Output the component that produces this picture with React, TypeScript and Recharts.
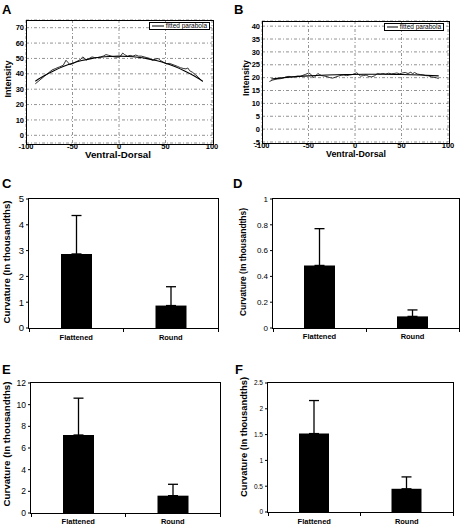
import React from "react"
import { LineChart, Line, BarChart, Bar, XAxis, YAxis, CartesianGrid, ErrorBar, Legend } from "recharts"

const FONT = "'Liberation Sans', Arial, sans-serif"

// panel A: intensity profile, ventral-dorsal
const posA = [-90, -87, -84, -80, -76, -72, -68, -64, -60, -57, -55, -53, -50, -47, -44, -41, -39, -37, -35, -32, -29, -26, -23, -20, -17, -14, -11, -8, -5, -2, 1, 4, 6, 9, 12, 15, 18, 21, 24, 27, 30, 33, 36, 39, 42, 45, 48, 51, 54, 57, 60, 63, 66, 69, 72, 74, 76, 79, 82, 85, 88, 90]
const intensityA = [33.5, 35, 36.5, 38.5, 40.5, 42.5, 43.5, 44.5, 45.5, 48.8, 47.5, 46, 46.5, 47.5, 48.5, 49.5, 51, 50, 49, 50, 51, 50.5, 50.6, 51, 51.5, 52.5, 52, 51.5, 51, 50.8, 51, 53.5, 52.5, 51.5, 52, 51.5, 52.2, 51.5, 51.5, 51, 50.5, 50, 48.8, 49.5, 50, 48.5, 47.5, 46.5, 46.8, 46.2, 45.5, 44.8, 44, 43.5, 43.2, 43.8, 42, 41, 39.5, 38, 36, 35]
const fitPosA = [-90, -80, -70, -60, -50, -40, -30, -20, -10, 0, 10, 20, 30, 40, 50, 60, 70, 80, 90]
const fitA = [35.2, 38.9, 42, 44.7, 46.9, 48.6, 49.9, 50.8, 51.3, 51.5, 51.3, 50.8, 49.9, 48.6, 46.9, 44.7, 42, 38.9, 35.2]

// panel B
const posB = [-92, -89, -86, -83, -80, -77, -74, -71, -68, -65, -62, -59, -56, -53, -50, -48, -46, -44, -42, -40, -38, -36, -33, -30, -27, -24, -21, -18, -15, -12, -9, -6, -3, 0, 2, 4, 6, 9, 12, 15, 18, 21, 24, 27, 30, 33, 36, 39, 42, 45, 48, 51, 54, 57, 60, 62, 64, 67, 70, 73, 76, 79, 82, 85, 88, 90]
const intensityB = [18.5, 19, 19.3, 19.5, 19.6, 19.9, 20.3, 20.5, 20.3, 20.4, 20.6, 20.5, 20.9, 21.3, 21.8, 21.5, 20.5, 20, 20.8, 21.6, 21.2, 20.8, 20.6, 20.4, 20, 19.8, 20.2, 20.6, 20.9, 21, 20.8, 21, 21.2, 21.6, 21.9, 21.2, 20.6, 20.8, 21, 20.4, 20.3, 20.7, 21.6, 21.4, 21.6, 21.4, 21.7, 21.5, 21.6, 21.8, 21.5, 21.8, 22, 21.6, 22.1, 21.5, 22, 21.4, 21.2, 21.1, 20.8, 20.7, 20.3, 20.1, 19.9, 19.6]
const fitPosB = [-90, -70, -50, -30, -10, 10, 30, 50, 70, 90]
const fitB = [19.5, 20.2, 20.7, 21, 21.2, 21.3, 21.3, 21.2, 21, 20.7]

const xTicks = [-100, -50, 0, 50, 100]
const ticksA = [0, 10, 20, 30, 40, 50, 60, 70]
const ticksB = [-5, 0, 5, 10, 15, 20, 25, 30, 35, 40]

// panels C-F: curvature bars
const categories = ["Flattened", "Round"]
const curvC = [2.87, 0.87]
const upperC = [4.36, 1.6]
const curvD = [0.485, 0.09]
const upperD = [0.77, 0.14]
const curvE = [7.2, 1.6]
const upperE = [10.6, 2.65]
const curvF = [1.52, 0.45]
const upperF = [2.16, 0.68]

const ticksC = [0, 1, 2, 3, 4, 5]
const ticksD = [0, 0.2, 0.4, 0.6, 0.8, 1]
const ticksE = [0, 2, 4, 6, 8, 10, 12]
const ticksF = [0, 0.5, 1, 1.5, 2, 2.5]

const toPoints = (xs: number[], ys: number[]) => xs.map((x, i) => ({ x, y: ys[i] }))

type Margin = { top: number; right: number; bottom: number; left: number }

// box drawn round the plot area, sized from the same margins the chart uses
const PlotFrame = ({ width, height, margin, yAxisWidth, xAxisHeight, line, edgeTicks }: any) => {
  const w = width - margin.left - margin.right - yAxisWidth
  const h = height - margin.top - margin.bottom - xAxisHeight
  const x0 = margin.left + yAxisWidth
  const y0 = margin.top
  return (
    <>
      <div
        style={{
          position: "absolute",
          left: x0 - line / 2,
          top: y0 - line / 2,
          width: w,
          height: h,
          border: `${line}px solid #000`,
          pointerEvents: "none",
        }}
      />
      {edgeTicks &&
        [0, 0.5, 1].map((f) => (
          <div key={f} style={{ position: "absolute", left: x0 + f * w - 0.5, top: y0 + h, width: 1, height: 4, background: "#000" }} />
        ))}
    </>
  )
}

const FitLegend = ({ payload }: any) => (
  <div
    style={{
      border: "1px solid #000",
      background: "#fff",
      display: "flex",
      alignItems: "center",
      height: 8,
      boxSizing: "border-box",
      padding: "0 2px",
      fontFamily: FONT,
      fontSize: 6.5,
      lineHeight: "6px",
      color: "#000",
    }}
  >
    {(payload || [])
      .filter((entry: any) => entry.type !== "none" && entry.value !== "y")
      .map((entry: any) => (
        <React.Fragment key={entry.value}>
          <svg width={12} height={4}>
            <line x1={0} x2={12} y1={2} y2={2} stroke="#000" strokeWidth={1} />
          </svg>
          <span style={{ marginLeft: 2, whiteSpace: "nowrap" }}>{entry.value}</span>
        </React.Fragment>
      ))}
  </div>
)

interface ProfileProps {
  left: number
  margin: Margin
  yAxisWidth: number
  xAxisHeight: number
  raw: { x: number; y: number }[]
  fit: { x: number; y: number }[]
  yDomain: [number, number]
  yTicks: number[]
  legend: { left: number; top: number; width: number }
}

const ProfilePanel = ({ left, margin, yAxisWidth, xAxisHeight, raw, fit, yDomain, yTicks, legend }: ProfileProps) => {
  const tick = { fontSize: 7.5, fontWeight: "bold", fill: "#000", fontFamily: FONT }
  return (
    <div style={{ position: "absolute", left, top: 0, width: 230, height: 160 }}>
      <LineChart width={230} height={160} margin={margin} data={raw}>
        <CartesianGrid stroke="#777" strokeDasharray="3 2 1 2" strokeWidth={0.8} />
        <XAxis type="number" dataKey="x" domain={[-100, 100]} allowDataOverflow ticks={xTicks} interval={0} height={xAxisHeight} tickLine={false} tickSize={1} tickMargin={0} axisLine={false} tick={tick} />
        <YAxis type="number" domain={yDomain} allowDataOverflow ticks={yTicks} interval={0} width={yAxisWidth} tickLine={false} tickSize={1} tickMargin={1} axisLine={false} tick={tick} />
        <Legend
          layout="vertical"
          align="center"
          verticalAlign="middle"
          content={FitLegend}
          wrapperStyle={{ left: legend.left, top: legend.top, width: legend.width, height: 8 }}
        />
        <Line dataKey="y" type="linear" stroke="#1a1a1a" strokeWidth={0.9} dot={false} legendType="none" isAnimationActive={false} />
        <Line data={fit} dataKey="y" name="fitted parabola" type="monotone" stroke="#000" strokeWidth={1.1} dot={false} isAnimationActive={false} />
      </LineChart>
      <PlotFrame width={230} height={160} margin={margin} yAxisWidth={yAxisWidth} xAxisHeight={xAxisHeight} line={1} />
    </div>
  )
}

interface CurvatureProps {
  left: number
  top: number
  height: number
  margin: Margin
  yAxisWidth: number
  xAxisHeight: number
  values: number[]
  uppers: number[]
  yDomain: [number, number]
  yTicks: number[]
  tickFontSize: number
  catMargin: number
  barSize: number
}

const CurvaturePanel = ({ left, top, height, margin, yAxisWidth, xAxisHeight, values, uppers, yDomain, yTicks, tickFontSize, catMargin, barSize }: CurvatureProps) => {
  const data = categories.map((name, i) => ({ name, value: values[i], err: [0, uppers[i] - values[i]] }))
  return (
    <div style={{ position: "absolute", left, top, width: 230, height }}>
      <BarChart width={230} height={height} data={data} margin={margin} barSize={barSize}>
        <XAxis
          dataKey="name"
          interval={0}
          height={xAxisHeight}
          tickLine={false}
          tickSize={1}
          tickMargin={catMargin - 1}
          axisLine={false}
          tick={{ fontSize: 7.5, fontWeight: "bold", fill: "#000", fontFamily: FONT }}
        />
        <YAxis
          domain={yDomain}
          allowDataOverflow
          ticks={yTicks}
          interval={0}
          width={yAxisWidth}
          tickSize={3}
          tickMargin={2}
          tickLine={{ stroke: "#000" }}
          axisLine={false}
          tick={{ fontSize: tickFontSize, fill: "#000", fontFamily: FONT }}
        />
        <Bar dataKey="value" fill="#000" isAnimationActive={false}>
          <ErrorBar dataKey="err" direction="y" width={5} stroke="#000" strokeWidth={1.3} />
        </Bar>
      </BarChart>
      <PlotFrame width={230} height={height} margin={margin} yAxisWidth={yAxisWidth} xAxisHeight={xAxisHeight} line={1.5} edgeTicks />
    </div>
  )
}

const yTitle = (x: number, y: number, text: string, size: number, length: number) => (
  <text
    x={x}
    y={y}
    transform={`rotate(-90 ${x} ${y})`}
    textAnchor="middle"
    dominantBaseline="central"
    fontSize={size}
    fontWeight="bold"
    fontFamily={FONT}
    textLength={length}
    lengthAdjust="spacingAndGlyphs"
  >
    {text}
  </text>
)

const panelLetter = (x: number, y: number, letter: string) => (
  <text x={x} y={y} fontSize={13} fontWeight="bold" fontFamily={FONT}>
    {letter}
  </text>
)

export default function App() {
  const curvTitle = "Curvature (In thousandths)"
  return (
    <div style={{ position: "absolute", left: 0, top: 0, width: 460, height: 525, background: "#fff" }}>
      <ProfilePanel
        left={0}
        margin={{ top: 20, right: 18, bottom: 0, left: 0 }}
        yAxisWidth={26}
        xAxisHeight={17}
        raw={toPoints(posA, intensityA)}
        fit={toPoints(fitPosA, fitA)}
        yDomain={[-5, 75]}
        yTicks={ticksA}
        legend={{ left: 149, top: 22, width: 61 }}
      />
      <ProfilePanel
        left={230}
        margin={{ top: 21, right: 12, bottom: 0, left: 0 }}
        yAxisWidth={32}
        xAxisHeight={18}
        raw={toPoints(posB, intensityB)}
        fit={toPoints(fitPosB, fitB)}
        yDomain={[-5, 42]}
        yTicks={ticksB}
        legend={{ left: 154, top: 23, width: 60 }}
      />
      <CurvaturePanel
        left={0}
        top={160}
        height={185}
        margin={{ top: 39, right: 12, bottom: 0, left: 0 }}
        yAxisWidth={29}
        xAxisHeight={17}
        values={curvC}
        uppers={upperC}
        yDomain={[0, 5]}
        yTicks={ticksC}
        tickFontSize={9.5}
        catMargin={7}
        barSize={31}
      />
      <CurvaturePanel
        left={230}
        top={160}
        height={185}
        margin={{ top: 39, right: 1, bottom: 0, left: 0 }}
        yAxisWidth={43}
        xAxisHeight={17}
        values={curvD}
        uppers={upperD}
        yDomain={[0, 1]}
        yTicks={ticksD}
        tickFontSize={8}
        catMargin={6}
        barSize={31}
      />
      <CurvaturePanel
        left={0}
        top={340}
        height={185}
        margin={{ top: 43, right: 10, bottom: 0, left: 0 }}
        yAxisWidth={31}
        xAxisHeight={12}
        values={curvE}
        uppers={upperE}
        yDomain={[0, 12]}
        yTicks={ticksE}
        tickFontSize={8.5}
        catMargin={6}
        barSize={31}
      />
      <CurvaturePanel
        left={230}
        top={340}
        height={185}
        margin={{ top: 43, right: 7, bottom: 0, left: 0 }}
        yAxisWidth={38}
        xAxisHeight={13}
        values={curvF}
        uppers={upperF}
        yDomain={[0, 2.5]}
        yTicks={ticksF}
        tickFontSize={6.5}
        catMargin={7}
        barSize={30}
      />
      <svg width={460} height={525} style={{ position: "absolute", left: 0, top: 0, pointerEvents: "none" }}>
        {panelLetter(2, 14, "A")}
        {panelLetter(234, 14, "B")}
        {panelLetter(2, 188, "C")}
        {panelLetter(233, 188, "D")}
        {panelLetter(2, 374, "E")}
        {panelLetter(235, 374, "F")}
        {yTitle(8, 79, "Intensity", 9, 37)}
        {yTitle(246, 78, "Intensity", 9, 36)}
        <text x={118} y={158} textAnchor="middle" fontSize={9} fontWeight="bold" fontFamily={FONT} textLength={66} lengthAdjust="spacingAndGlyphs">
          Ventral-Dorsal
        </text>
        <text x={356} y={157} textAnchor="middle" fontSize={9} fontWeight="bold" fontFamily={FONT} textLength={60} lengthAdjust="spacingAndGlyphs">
          Ventral-Dorsal
        </text>
        {yTitle(7, 262, curvTitle, 9, 123)}
        {yTitle(243, 262, curvTitle, 8.5, 108)}
        {yTitle(7, 444, curvTitle, 9, 125)}
        {yTitle(244, 437, curvTitle, 8.5, 120)}
      </svg>
    </div>
  )
}
